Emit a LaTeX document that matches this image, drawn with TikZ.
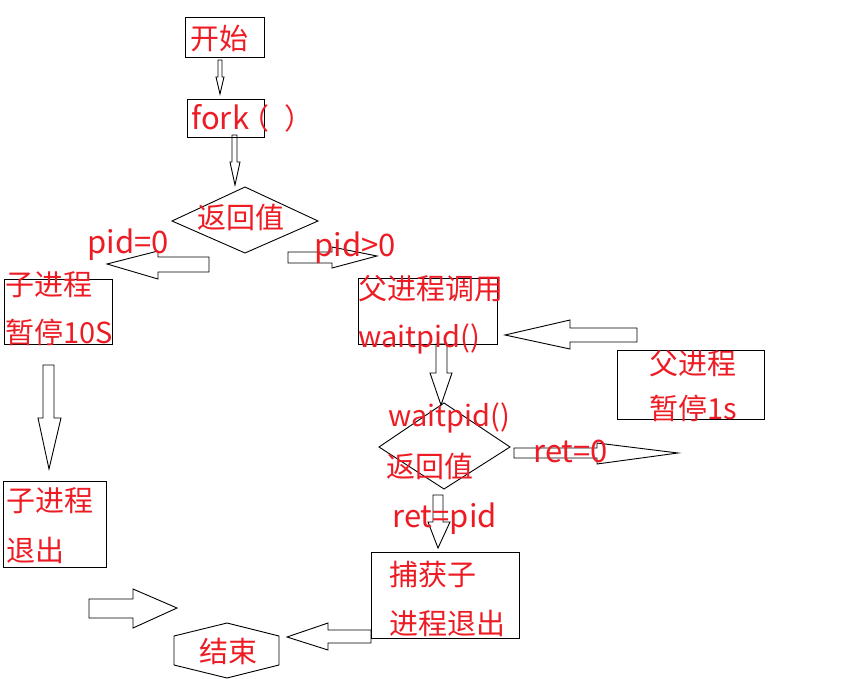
\documentclass[tikz,border=0pt]{standalone}
\usepackage{fontspec}
\setmainfont{Noto Sans CJK SC}
\usetikzlibrary{fit}
\definecolor{tred}{RGB}{237,28,36}
\begin{document}
\begin{tikzpicture}[x=1pt,y=-1pt,line width=0.9pt,
  box/.style={draw,inner sep=0pt},
  lbl/.style={text=tred,font=\fontsize{29}{32}\selectfont,inner sep=0pt,anchor=west,
              text height=0.88em,text depth=0.12em,yshift=-6pt},
  lat/.style={lbl,font=\fontsize{31}{34}\selectfont},
  barrow/.style={draw,line join=miter}]
\useasboundingbox (0,0) rectangle (859,679);

% boxes
\node[box,fit={(185,17)(264,57)}] (start) {};
\node[box,fit={(187,99)(264,137)}] (fork) {};
\node[box,fit={(4,279)(112,344)}] (child) {};
\node[box,fit={(358,278)(497,344)}] (parent) {};
\node[box,fit={(617,350)(764,419)}] (psleep) {};
\node[box,fit={(3,481)(106,567)}] (cexit) {};
\node[box,fit={(371,552)(519,638)}] (catch) {};

% decisions and end
\draw (172,221) -- (245,187) -- (318,221) -- (245,253) -- cycle;
\draw (379,447) -- (444,403) -- (510,447) -- (444,489) -- cycle;
\draw (174,636) -- (227,623) -- (279,636) -- (279,665) -- (227,678) -- (174,665) -- cycle;

% block arrows
% down: start -> fork
\draw[barrow] (218,60) -- (222,60) -- (222,77) -- (224,77) -- (220,94) -- (216,77) -- (218,77) -- cycle;
% down: fork -> decision
\draw[barrow] (232,135) -- (237,135) -- (237,162) -- (240,162) -- (235,185) -- (230,162) -- (232,162) -- cycle;
% left: pid=0
\draw[barrow] (209,257) -- (209,272) -- (158,272) -- (158,279) -- (107,264) -- (158,251) -- (158,257) -- cycle;
% right: pid>0
\draw[barrow] (288,252) -- (288,263) -- (332,263) -- (332,268) -- (377,256) -- (332,247) -- (332,252) -- cycle;
% left: parent sleep -> waitpid
\draw[barrow] (637,328) -- (637,342) -- (570,342) -- (570,349) -- (505,335) -- (570,320) -- (570,328) -- cycle;
% down: parent -> waitpid decision
\draw[barrow] (436,344) -- (447,344) -- (447,373) -- (452,373) -- (441,405) -- (430,373) -- (436,373) -- cycle;
% right: ret=0
\draw[barrow] (514,448) -- (514,458) -- (597,458) -- (597,464) -- (678,453) -- (597,443) -- (597,448) -- cycle;
% down: ret=pid
\draw[barrow] (433,495) -- (443,495) -- (443,522) -- (450,522) -- (438,548) -- (428,522) -- (433,522) -- cycle;
% down: child sleep -> child exit
\draw[barrow] (43,365) -- (54,365) -- (54,418) -- (61,418) -- (49,469) -- (38,418) -- (43,418) -- cycle;
% right: child exit -> end
\draw[barrow] (89,599) -- (89,618) -- (133,618) -- (133,628) -- (177,608) -- (133,589) -- (133,599) -- cycle;
% left: catch -> end
\draw[barrow] (371,630) -- (371,643) -- (328,643) -- (328,650) -- (287,637) -- (328,623) -- (328,630) -- cycle;

% texts
\node[lbl] (tstart) at (190,40) {开始};
\node[lbl] (tfork) at (191,120) {{\fontsize{31}{34}\selectfont fork}\kern-9pt（\kern15pt ）};
\node[lbl] (tdec) at (197,219) {返回值};
\node[lat] (tpid0) at (87,244) {pid=0};
\node[lat] (tpidg) at (314,247) {pid>0};
\node[lbl] (tc1) at (5,286) {子进程};
\node[lbl] (tc2) at (5,334) {暂停10S};
\node[lbl] (tp1) at (358,290) {父进程调用};
\node[lbl] (tp2) at (358,338) {waitpid()};
\node[lbl] (ts1) at (649,365) {父进程};
\node[lbl] (ts2) at (649,410) {暂停1s};
\node[lbl] (tw1) at (388,417) {waitpid()};
\node[lbl] (tw2) at (386,468) {返回值};
\node[lat] (tr0) at (533,453) {ret=0};
\node[lat] (trp) at (392,518) {ret=pid};
\node[lbl] (tk1) at (389,576) {捕获子};
\node[lbl] (tk2) at (389,625) {进程退出};
\node[lbl] (te1) at (6,502) {子进程};
\node[lbl] (te2) at (6,552) {退出};
\node[lbl] (tend) at (199,653) {结束};
\end{tikzpicture}
\end{document}
